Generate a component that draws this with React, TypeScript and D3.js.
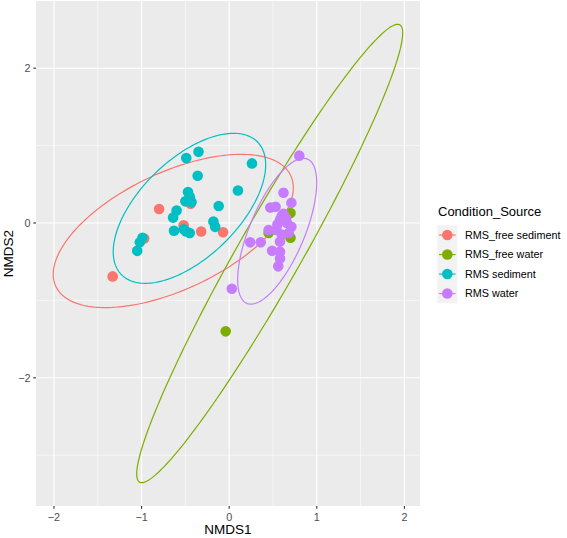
import React from "react";
import * as d3 from "d3";

const groups = ["RMS_free sediment", "RMS_free water", "RMS sediment", "RMS water"];
const colors = ["#F8766D", "#7CAE00", "#00BFC4", "#C77CFF"];

const freeSediment: [number, number][] = [
  [-1.33, -0.69], [-0.8, 0.18], [-0.97, -0.2], [-0.52, -0.03], [-0.44, 0.25], [-0.32, -0.11], [-0.07, -0.12],
];
const freeWater: [number, number][] = [
  [-0.04, -1.4], [0.7, 0.13], [0.45, -0.13], [0.7, -0.19],
];
const sediment: [number, number][] = [
  [-0.49, 0.84], [-0.35, 0.92], [0.26, 0.77], [-0.36, 0.61], [0.1, 0.42], [-0.47, 0.4], [-0.45, 0.34],
  [-0.5, 0.28], [-0.43, 0.27], [-0.12, 0.22], [-0.6, 0.16], [-0.64, 0.07], [-0.18, 0.02], [-0.16, -0.05],
  [-0.63, -0.1], [-0.52, -0.08], [-0.49, -0.11], [-0.45, -0.13], [-0.99, -0.19], [-1.02, -0.25], [-1.05, -0.36],
];
const water: [number, number][] = [
  [0.8, 0.87], [0.62, 0.39], [0.71, 0.26], [0.47, 0.2], [0.53, 0.21], [0.62, 0.12], [0.58, 0.04],
  [0.66, 0.0], [0.65, 0.06], [0.6, 0.09], [0.55, -0.02], [0.71, -0.05], [0.45, -0.09], [0.54, -0.09],
  [0.6, -0.15], [0.68, -0.13], [0.24, -0.25], [0.36, -0.25], [0.58, -0.24], [0.49, -0.36], [0.58, -0.37],
  [0.58, -0.46], [0.56, -0.56], [0.03, -0.85],
];
const groupPoints = [freeSediment, freeWater, sediment, water];

// ellipse: centre, half-width, half-height, correlation
const ellipseCx = [-0.638, 0.4625, -0.4535, 0.548];
const ellipseCy = [-0.103, -0.394, 0.19, -0.106];
const ellipseW = [1.37, 1.518, 0.87, 0.451];
const ellipseH = [0.99, 2.961, 0.969, 0.942];
const ellipseRho = [0.565, 0.962, 0.58, 0.665];

const xMajor = [-2, -1, 0, 1, 2];
const xMinor = [-1.5, -0.5, 0.5, 1.5];
const yMajor = [-2, 0, 2];
const yMinor = [-3, -1, 1];

const FONT = "'Liberation Sans', Arial, sans-serif";

export default function App() {
  const pl = 36, pr = 420, pt = 1, pb = 506;
  const x = d3.scaleLinear().domain([-2.205, 2.178]).range([pl, pr]);
  const y = d3.scaleLinear().domain([-3.656, 2.868]).range([pb, pt]);
  const line = d3.line<[number, number]>().x((d) => x(d[0])).y((d) => y(d[1])).curve(d3.curveLinearClosed);

  const ellipsePath = (i: number) => {
    const pts: [number, number][] = d3.range(0, 200).map((k) => {
      const t = (k / 200) * Math.PI * 2;
      const r = ellipseRho[i];
      return [
        ellipseCx[i] + ellipseW[i] * Math.cos(t),
        ellipseCy[i] + ellipseH[i] * (r * Math.cos(t) + Math.sqrt(1 - r * r) * Math.sin(t)),
      ];
    });
    return line(pts) || "";
  };

  const legendTop = 225.3;
  const keyH = 19.5;

  return (
    <svg width={567} height={538} style={{ position: "absolute", left: 0, top: 0, background: "#fff" }} fontFamily={FONT}>
      <defs>
        <clipPath id="panel">
          <rect x={pl} y={pt} width={pr - pl} height={pb - pt} />
        </clipPath>
      </defs>
      <rect x={pl} y={pt} width={pr - pl} height={pb - pt} fill="#EBEBEB" />
      {xMinor.map((v) => (
        <line key={"xm" + v} x1={x(v)} x2={x(v)} y1={pt} y2={pb} stroke="#fff" strokeWidth={0.55} />
      ))}
      {yMinor.map((v) => (
        <line key={"ym" + v} y1={y(v)} y2={y(v)} x1={pl} x2={pr} stroke="#fff" strokeWidth={0.55} />
      ))}
      {xMajor.map((v) => (
        <line key={"xM" + v} x1={x(v)} x2={x(v)} y1={pt} y2={pb} stroke="#fff" strokeWidth={1.1} />
      ))}
      {yMajor.map((v) => (
        <line key={"yM" + v} y1={y(v)} y2={y(v)} x1={pl} x2={pr} stroke="#fff" strokeWidth={1.1} />
      ))}
      <g clipPath="url(#panel)">
        {groups.map((g, i) => (
          <path key={"e" + g} d={ellipsePath(i)} fill="none" stroke={colors[i]} strokeWidth={1.2} />
        ))}
        {groupPoints.map((pts, i) =>
          pts.map((p, j) => <circle key={i + "-" + j} cx={x(p[0])} cy={y(p[1])} r={5.3} fill={colors[i]} />)
        )}
      </g>
      {xMajor.map((v) => (
        <g key={"xt" + v}>
          <line x1={x(v)} x2={x(v)} y1={pb} y2={pb + 2.7} stroke="#333" strokeWidth={1.1} />
          <text x={x(v)} y={520.5} textAnchor="middle" fontSize={10.8} fill="#4D4D4D">
            {v < 0 ? "\u2212" + Math.abs(v) : String(v)}
          </text>
        </g>
      ))}
      {yMajor.map((v) => (
        <g key={"yt" + v}>
          <line x1={pl - 2.7} x2={pl} y1={y(v)} y2={y(v)} stroke="#333" strokeWidth={1.1} />
          <text x={30.5} y={y(v) + 3.8} textAnchor="end" fontSize={10.8} fill="#4D4D4D">
            {v < 0 ? "\u2212" + Math.abs(v) : String(v)}
          </text>
        </g>
      ))}
      <text x={(pl + pr) / 2} y={533.5} textAnchor="middle" fontSize={13.5} fill="#000">
        NMDS1
      </text>
      <text transform={`translate(13,${(pt + pb) / 2}) rotate(-90)`} textAnchor="middle" fontSize={13.5} fill="#000">
        NMDS2
      </text>
      <text x={438} y={216.2} fontSize={13} fill="#000">
        Condition_Source
      </text>
      {groups.map((g, i) => {
        const cy = legendTop + keyH * i + keyH / 2;
        return (
          <g key={"l" + g}>
            <rect x={437.3} y={legendTop + keyH * i} width={20} height={keyH} fill="#F2F2F2" />
            <line x1={439} x2={455.6} y1={cy} y2={cy} stroke={colors[i]} strokeWidth={1.2} />
            <circle cx={447.3} cy={cy} r={5.3} fill={colors[i]} />
            <text x={465} y={cy + 3.8} fontSize={10.8} fill="#000">
              {g}
            </text>
          </g>
        );
      })}
    </svg>
  );
}
